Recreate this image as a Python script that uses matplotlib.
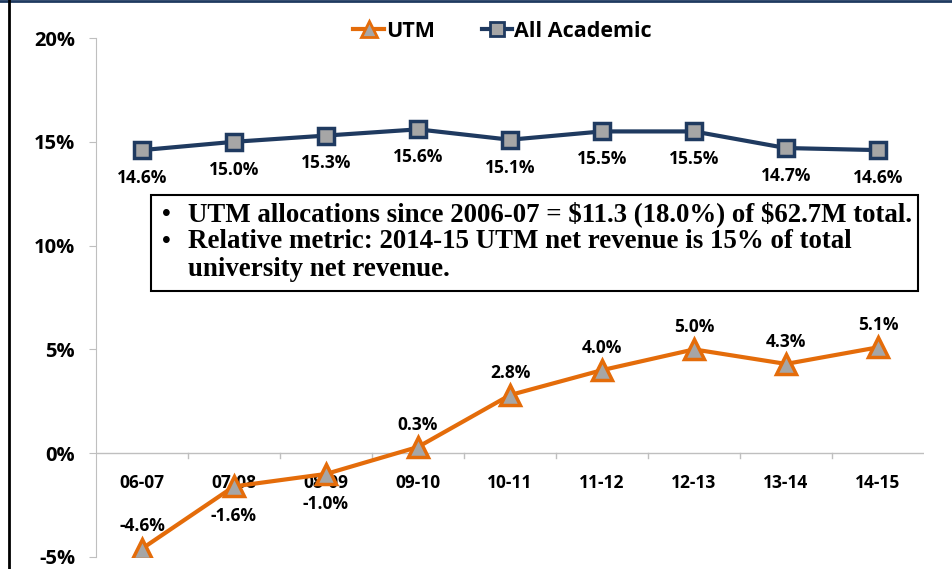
import matplotlib
matplotlib.use("Agg")
import matplotlib.pyplot as plt
from matplotlib.lines import Line2D
from matplotlib.patches import Rectangle
from matplotlib.ticker import FuncFormatter

categories = ["06-07", "07-08", "08-09", "09-10", "10-11", "11-12", "12-13", "13-14", "14-15"]
utm = [-4.6, -1.6, -1.0, 0.3, 2.8, 4.0, 5.0, 4.3, 5.1]
all_academic = [14.6, 15.0, 15.3, 15.6, 15.1, 15.5, 15.5, 14.7, 14.6]
yticks = [-5, 0, 5, 10, 15, 20]
note_lines = [("\u2022", "UTM allocations since 2006-07 = $11.3 (18.0%) of $62.7M total."),
              ("\u2022", "Relative metric: 2014-15 UTM net revenue is 15% of total"),
              ("", "university net revenue.")]

plt.rcParams['font.family'] = ['Open Sans', 'DejaVu Sans']

ORANGE = '#e46c0a'
NAVY = '#1f3a60'
GRAY = '#a6a6a6'

fig = plt.figure(figsize=(9.52, 5.69), dpi=100)
ax = fig.add_axes([0.1008, 0.0211, 0.8698, 0.9121])

x = list(range(len(categories)))
ax.plot(x, all_academic, color=NAVY, lw=3, marker='s', ms=12,
        markerfacecolor=GRAY, markeredgecolor=NAVY, markeredgewidth=2.5, zorder=3)
ax.plot(x, utm, color=ORANGE, lw=3, marker='^', ms=14,
        markerfacecolor=GRAY, markeredgecolor=ORANGE, markeredgewidth=2.5, zorder=3)

for xi, v in zip(x, all_academic):
    ax.annotate(f"{v:.1f}%", (xi, v), xytext=(0, -20), textcoords='offset points',
                ha='center', va='center', fontsize=12.5, fontweight='bold')
for i, (xi, v) in enumerate(zip(x, utm)):
    dy = 16 if (v > 0 or i == 0) else -21.5
    ax.annotate(f"{v:.1f}%", (xi, v), xytext=(0, dy), textcoords='offset points',
                ha='center', va='center', fontsize=12.5, fontweight='bold')

ax.set_xlim(-0.5, len(categories) - 0.5)
ax.set_ylim(-5, 20)
ax.set_yticks(yticks)
ax.yaxis.set_major_formatter(FuncFormatter(lambda v, p: f"{v:.0f}%"))
for lab in ax.get_yticklabels():
    lab.set_fontweight('bold')
ax.tick_params(axis='y', labelsize=14.5, length=5, color='#bfbfbf', pad=10)

for s in ['top', 'right', 'bottom']:
    ax.spines[s].set_visible(False)
ax.spines['left'].set_color('#bfbfbf')
ax.axhline(0, color='#bfbfbf', lw=1, zorder=1)
ax.set_xticks([])
for b in range(1, len(categories)):
    ax.plot([b - 0.5, b - 0.5], [0, -0.25], color='#bfbfbf', lw=1, clip_on=False, zorder=1)
for xi, c in zip(x, categories):
    ax.text(xi, -1.45, c, ha='center', va='center', fontsize=12.5, fontweight='bold', zorder=2)

# notes box
fig.add_artist(Rectangle((0.1586, 0.4886), 0.8057, 0.1687, transform=fig.transFigure,
                         facecolor='white', edgecolor='black', lw=1.5, zorder=5))
line_y = [0.6239, 0.5747, 0.5255]
for (bul, txt), yy in zip(note_lines, line_y):
    if bul:
        fig.text(0.175, yy, bul, ha='center', va='center', fontsize=18, fontweight='bold',
                 family='Liberation Serif', zorder=6)
    fig.text(0.1975, yy, txt, ha='left', va='center', fontsize=19.4, fontweight='bold',
             family='Liberation Serif', parse_math=False, zorder=6)

handles = [Line2D([], [], color=ORANGE, lw=3, marker='^', ms=12, markerfacecolor=GRAY,
                  markeredgecolor=ORANGE, markeredgewidth=2),
           Line2D([], [], color=NAVY, lw=3, marker='s', ms=10, markerfacecolor=GRAY,
                  markeredgecolor=NAVY, markeredgewidth=2)]
fig.legend(handles, ["UTM", "All Academic"], loc='center', bbox_to_anchor=(0.528, 0.945),
           ncol=2, frameon=False, prop={'size': 15.5, 'weight': 'bold'},
           handlelength=1.4, handletextpad=0.1, columnspacing=2.2)

# frame lines
fig.add_artist(Line2D([0, 1], [0.998, 0.998], color='#1f3a60', lw=2, transform=fig.transFigure))
fig.add_artist(Line2D([0.009, 0.009], [0, 1], color='black', lw=2, transform=fig.transFigure))

fig.savefig("out.png", dpi=100)
